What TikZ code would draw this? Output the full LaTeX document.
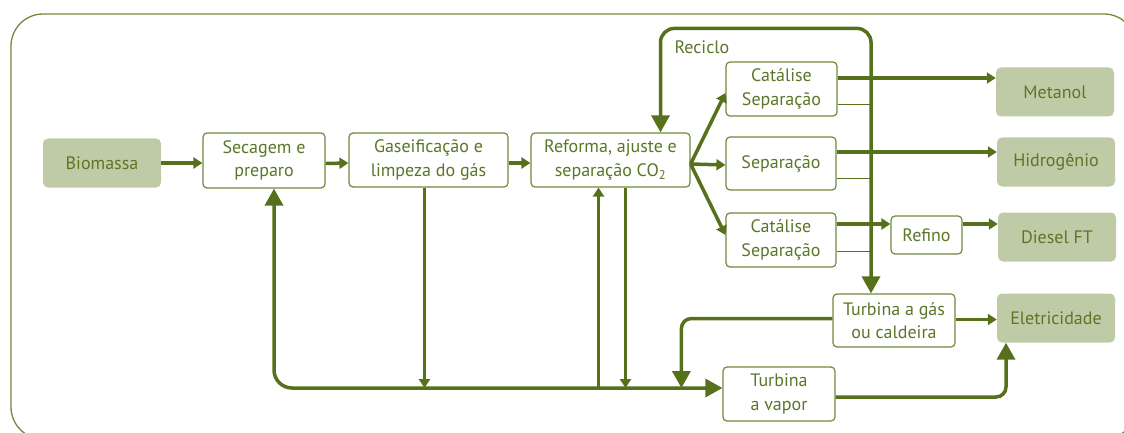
\documentclass[tikz,border=0pt]{standalone}
\usepackage{fontspec}
\setmainfont{PT Sans}
\usetikzlibrary{arrows.meta,positioning}
\definecolor{verde}{RGB}{86,112,28}
\definecolor{borda}{RGB}{112,138,60}
\definecolor{texto}{RGB}{92,118,40}
\definecolor{palha}{RGB}{191,203,166}

\begin{document}
\begin{tikzpicture}[x=1pt, y=-1pt, every node/.style={font=\fontsize{18}{23.5}\selectfont, text=texto},
  box/.style={draw=borda, line width=1.2pt, rounded corners=4pt, fill=white, align=center, inner sep=0pt, minimum height=54pt},
  prod/.style={fill=palha, rounded corners=5pt, inner sep=0pt, minimum width=118pt, minimum height=49pt},
  fio/.style={draw=verde, line width=3.5pt},
  seta/.style={fio, -{Triangle[length=9pt,width=11pt]}},
  setag/.style={fio, -{Triangle[length=17pt,width=18pt]}},
  dupla/.style={fio, {Triangle[length=17pt,width=18pt]}-{Triangle[length=17pt,width=18pt]}},
  fino/.style={draw=verde, line width=1pt}]
\useasboundingbox (0,0) rectangle (1124,433);
\clip (0,0) rectangle (1124,433);
\draw[borda, line width=1.3pt, rounded corners=32pt] (11,14) rectangle (1136,439);
\node[prod] (bio) at (102,163) {Biomassa};
\node[box, minimum width=122pt, minimum height=55pt] (sec) at (264,160.5) {Secagem e\\preparo};
\node[box, minimum width=159pt] (gas) at (428.5,160) {Gaseificação e\\limpeza do gás};
\node[box, minimum width=159pt] (ref) at (610.5,160) {Reforma, ajuste e\\separação CO\textsubscript{2}};
\node[box, minimum width=111pt] (cat1) at (781.5,89) {Catálise\\Separação};
\node[box, minimum width=110pt, minimum height=53pt] (sep) at (781,163.5) {Separação};
\node[box, minimum width=110pt] (cat2) at (781,240) {Catálise\\Separação};
\node[box, minimum width=71pt, minimum height=38pt] (refino) at (926.5,235) {Refino};
\node[prod] (met) at (1055,92) {Metanol};
\node[prod] (hid) at (1056,162) {Hidrogênio};
\node[prod] (dies) at (1057,237) {Diesel FT};
\node[prod] (elet) at (1056,318) {Eletricidade};
\node[box, minimum width=122pt, minimum height=53pt] (tgas) at (894,320.5) {Turbina a gás\\ou caldeira};
\node[box, minimum width=112pt] (tvap) at (779,394) {Turbina\\a vapor};
\node[anchor=west] (rec) at (671,47) {Reciclo};
\coordinate (vert) at ([xshift=-23pt]tgas.north);
\coordinate (bus) at ([yshift=6pt]tvap.west);
\draw[seta] (bio.east) -- (bio.east -| sec.west);
\draw[seta] ([yshift=-3pt]sec.east) -- ([yshift=-3pt]gas.west);
\draw[seta] ([yshift=-3pt]gas.east) -- ([yshift=-3pt]ref.west);
\draw[seta] ([yshift=-4pt]ref.east) -- ([yshift=-4pt]cat1.west);
\draw[seta] ([yshift=-4pt]ref.east) -- ([yshift=-1.5pt]sep.west);
\draw[seta] ([yshift=-4pt]ref.east) -- ([yshift=5pt]cat2.west);
\draw[dupla, rounded corners=14pt] ([xshift=50pt]ref.north) -- ++(0,-104) -| (vert);
\draw[fino] ([yshift=-16pt]cat1.east) -- ([yshift=-16pt]cat1.east -| vert);
\draw[fino] ([yshift=-14.5pt]sep.east) -- ([yshift=-14.5pt]sep.east -| vert);
\draw[fino] ([yshift=-11pt]cat2.east) -- ([yshift=-11pt]cat2.east -| vert);
\draw[seta] ([yshift=11pt]cat1.east) -- ([yshift=11pt]cat1.east -| met.west);
\draw[seta] ([yshift=11.5pt]sep.east) -- ([yshift=11.5pt]sep.east -| hid.west);
\draw[seta] ([yshift=16pt]cat2.east) -- ([yshift=16pt]cat2.east -| refino.west);
\draw[seta] ([yshift=11pt]refino.east) -- ([yshift=11pt]refino.east -| dies.west);
\draw[seta] ([yshift=1pt]tgas.east) -- ([yshift=1pt]tgas.east -| elet.west);
\draw[dupla, rounded corners=18pt] ([xshift=10pt]sec.south) |- (bus);
\draw[seta] ([xshift=-4pt]gas.south) -- ([xshift=-4pt]gas.south |- bus);
\draw[seta] ([xshift=-12pt]ref.south |- bus) -- ([xshift=-12pt]ref.south);
\draw[seta] ([xshift=15pt]ref.south) -- ([xshift=15pt]ref.south |- bus);
\draw[setag, rounded corners=10pt] ([yshift=2pt]tgas.west) -| ([xshift=-41pt]bus);
\draw[setag, rounded corners=10pt] ([yshift=-3pt]tvap.east) -| ([xshift=-50pt]elet.south);
\end{tikzpicture}
\end{document}
